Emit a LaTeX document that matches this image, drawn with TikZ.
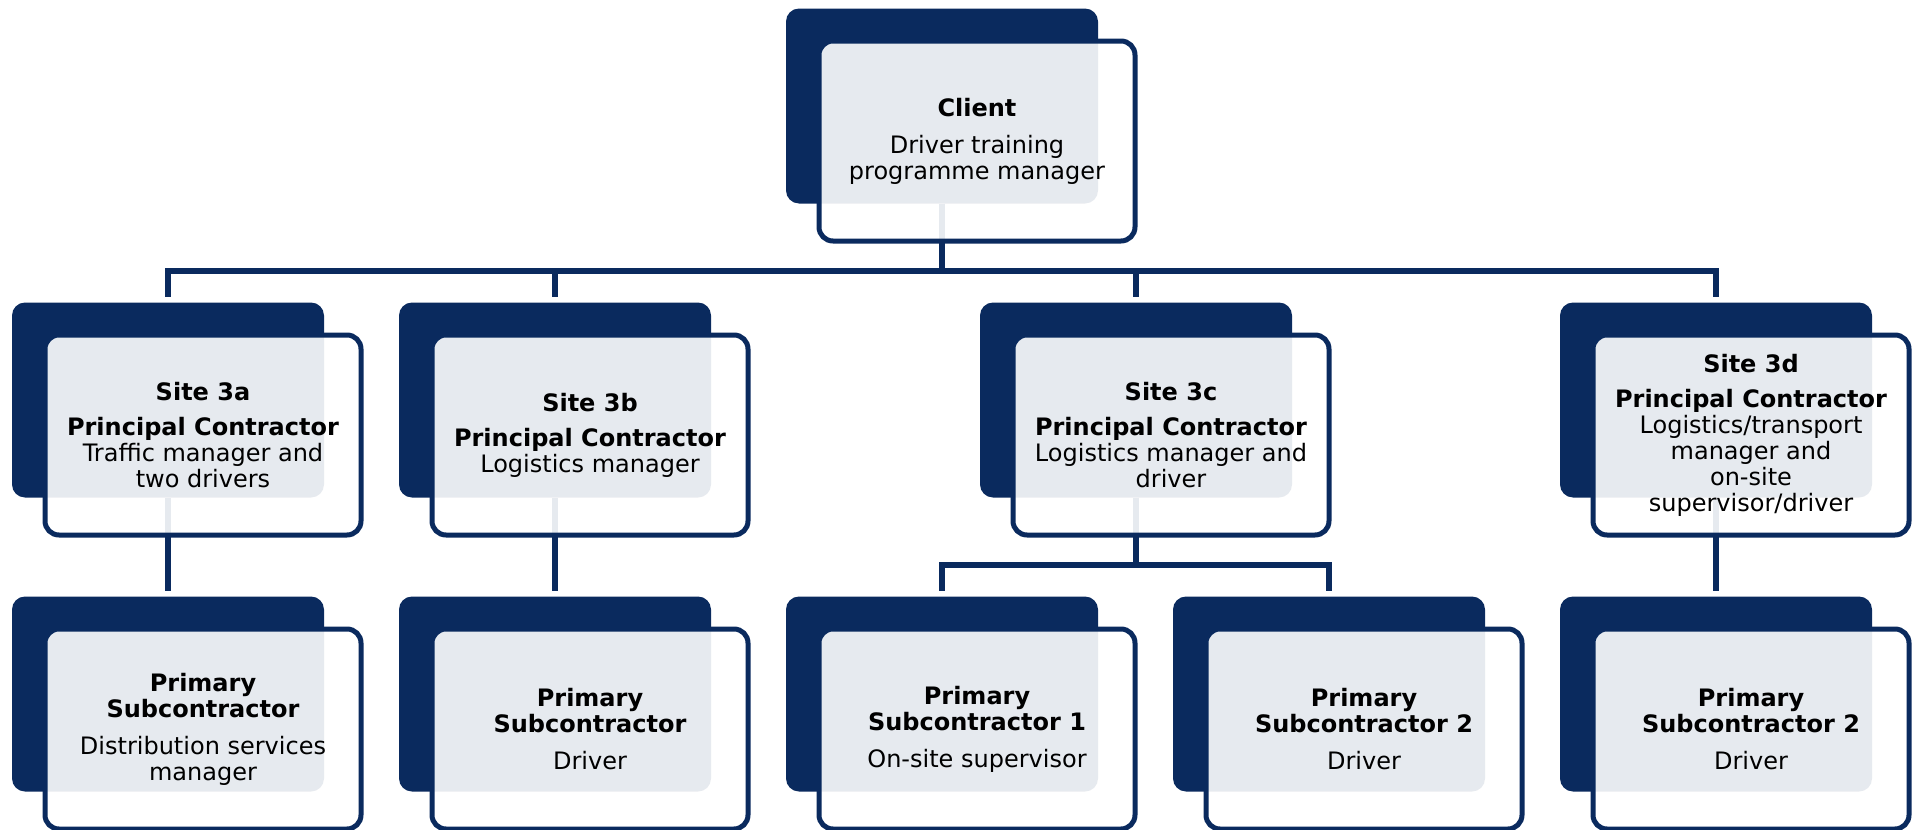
\documentclass[tikz,border=0pt]{standalone}
\usepackage{fontspec}
\setmainfont{DejaVu Sans}
\usetikzlibrary{backgrounds}
\definecolor{navy}{RGB}{10,42,94}
\tikzset{
  back/.style={fill=navy,rounded corners=6.5pt,minimum width=156pt,
    minimum height=97.5pt,inner sep=0pt},
  card/.style={draw=navy,line width=2.5pt,fill=white,fill opacity=0.9,
    text opacity=1,rounded corners=7pt,minimum width=158pt,minimum height=100pt,
    align=center,inner sep=2pt,font=\fontsize{12}{13}\selectfont},
  link/.style={draw=navy,line width=2.8pt,shorten >=2.5pt},
}

\begin{document}
\begin{tikzpicture}[x=0.5pt,y=-0.5pt]
  \useasboundingbox (0,0) rectangle (1919,830);
  % back panels and cards
  \foreach \n/\x/\y/\t in {
      cl/942/106/{\textbf{Client}\\[5.5pt]Driver training\\programme manager},
      s3a/168/400/{\textbf{Site 3a}\\[4.5pt]\textbf{Principal Contractor}\\Traffic manager and\\two drivers},
      s3b/555/400/{\textbf{Site 3b}\\[4.5pt]\textbf{Principal Contractor}\\Logistics manager},
      s3c/1136/400/{\textbf{Site 3c}\\[4.5pt]\textbf{Principal Contractor}\\Logistics manager and\\driver},
      s3d/1716/400/{\textbf{Site 3d}\\[4.5pt]\textbf{Principal Contractor}\\Logistics/transport\\manager and\\on-site\\supervisor/driver},
      p3a/168/694/{\textbf{Primary}\\\textbf{Subcontractor}\\[5.5pt]Distribution services\\manager},
      p3b/555/694/{\textbf{Primary}\\\textbf{Subcontractor}\\[5.5pt]Driver},
      p3c1/942/694/{\textbf{Primary}\\\textbf{Subcontractor 1}\\[5.5pt]On-site supervisor},
      p3c2/1329/694/{\textbf{Primary}\\\textbf{Subcontractor 2}\\[5.5pt]Driver},
      p3d/1716/694/{\textbf{Primary}\\\textbf{Subcontractor 2}\\[5.5pt]Driver}}{
    \node[back] (\n) at (\x,\y) {};
    \node[card] (\n-c) at ([shift={(17.5pt,-17.5pt)}]\n.center) {\t};
  }
  % connectors behind the cards
  \begin{scope}[on background layer]
    \foreach \s in {s3a,s3b,s3c,s3d}
      \draw[link] (cl.south) -- ++(0,67) -| (\s.north);
    \foreach \s in {p3c1,p3c2}
      \draw[link] (s3c.south) -- ++(0,67) -| (\s.north);
    \draw[link] (s3a.south) -- (p3a.north);
    \draw[link] (s3b.south) -- (p3b.north);
    \draw[link] (s3d.south) -- (p3d.north);
  \end{scope}
\end{tikzpicture}
\end{document}
